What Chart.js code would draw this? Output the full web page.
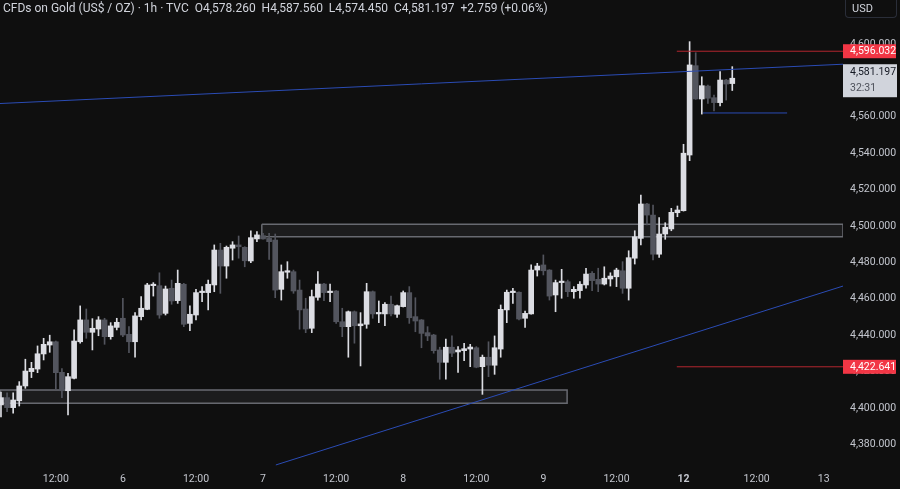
<!DOCTYPE html>
<html>
<head>
<meta charset="utf-8">
<script src="https://cdn.jsdelivr.net/npm/chart.js@4/dist/chart.umd.min.js"></script>
<style>
  html, body { margin: 0; padding: 0; background: #0f0f0f; }
  #wrap { position: relative; width: 900px; height: 489px; }
  #legend { position: absolute; left: 3px; top: 1px; font: 12px "Liberation Sans Narrow", Roboto, sans-serif; color: #d1d4dc; white-space: pre; }
  #usd { position: absolute; left: 845px; top: 0; width: 52px; height: 18px; box-sizing: border-box;
         border: 1px solid #2a2e39; border-top: none; border-radius: 0 0 4px 4px;
         font: 11px Roboto, sans-serif; color: #d1d4dc; line-height: 17px; padding-left: 6px; }
</style>
</head>
<body>
<div id="wrap">
  <canvas id="chart" width="900" height="489"></canvas>
  <div id="legend">CFDs on Gold (US$ / OZ) · 1h · TVC  O4,578.260  H4,587.560  L4,574.450  C4,581.197  +2.759 (+0.06%)</div>
  <div id="usd">USD</div>
</div>
<script>
'use strict'

// ------------- hourly candles ------------- //
var opens = [
  4401.7, 4405.7, 4400.2, 4404.0, 4412.1, 4420.0, 4421.4, 4429.7, 4434.6, 4436.4,
  4419.6, 4409.5, 4416.3, 4436.4, 4448.4, 4441.6, 4443.4, 4448.4, 4439.2, 4444.3,
  4449.3, 4440.5, 4436.4, 4450.2, 4454.2, 4467.2, 4467.2, 4452.0, 4465.8, 4459.0,
  4468.0, 4446.5, 4451.1, 4463.4, 4463.4, 4467.6, 4486.8, 4478.0, 4487.8, 4489.6,
  4488.3, 4480.8, 4492.9, 4494.7, 4493.2, 4492.3, 4465.2, 4474.6, 4474.9, 4464.8,
  4454.4, 4443.8, 4460.8, 4468.1, 4463.4, 4464.3, 4447.4, 4444.7, 4452.9, 4445.2,
  4446.0, 4463.9, 4451.7, 4451.7, 4457.0, 4451.5, 4455.7, 4463.4, 4450.2, 4448.4,
  4441.4, 4440.1, 4431.9, 4425.1, 4433.4, 4430.8, 4431.5, 4432.4, 4433.1, 4422.7,
  4427.9, 4423.5, 4432.4, 4453.9, 4463.4, 4463.6, 4449.3, 4451.7, 4475.8, 4478.6,
  4475.8, 4462.1, 4468.9, 4469.4, 4463.9, 4464.5, 4467.6, 4474.0, 4470.7, 4468.1,
  4470.9, 4472.1, 4475.4, 4465.8, 4482.3, 4493.2, 4512.1, 4506.0, 4484.5, 4495.6,
  4498.4, 4507.3, 4508.4, 4539.0, 4588.1, 4569.8, 4576.9, 4570.5, 4567.8, 4580.2,
  4578.26
];
var highs = [
  4408.8, 4408.3, 4408.4, 4414.5, 4426.8, 4425.1, 4434.1, 4438.3, 4440.0, 4436.8,
  4421.6, 4419.1, 4442.9, 4456.1, 4454.4, 4449.1, 4450.2, 4449.3, 4446.9, 4449.3,
  4460.3, 4444.7, 4452.4, 4461.2, 4468.5, 4468.9, 4474.3, 4467.0, 4470.3, 4475.8,
  4468.5, 4456.1, 4465.2, 4466.7, 4470.3, 4489.6, 4490.5, 4489.0, 4491.4, 4494.5,
  4488.6, 4497.3, 4496.9, 4496.0, 4496.0, 4495.6, 4478.6, 4480.4, 4475.8, 4470.3,
  4460.3, 4464.8, 4474.9, 4468.5, 4468.1, 4464.5, 4454.8, 4453.3, 4453.3, 4452.4,
  4468.5, 4464.3, 4458.8, 4457.9, 4461.5, 4456.6, 4464.3, 4466.7, 4460.6, 4448.6,
  4444.7, 4440.5, 4433.4, 4437.9, 4439.6, 4433.7, 4435.6, 4435.0, 4433.7, 4429.1,
  4436.4, 4439.6, 4456.6, 4464.8, 4465.8, 4463.8, 4453.3, 4478.6, 4479.5, 4484.1,
  4476.0, 4470.3, 4476.2, 4470.3, 4466.7, 4469.4, 4476.8, 4474.9, 4476.8, 4477.6,
  4474.3, 4476.8, 4480.4, 4486.4, 4497.4, 4517.0, 4512.5, 4511.5, 4504.6, 4501.8,
  4509.7, 4511.0, 4544.9, 4601.3, 4595.2, 4582.0, 4577.5, 4572.0, 4584.8, 4580.6,
  4587.56
];
var lows = [
  4395.1, 4398.0, 4397.1, 4401.1, 4410.8, 4416.7, 4419.4, 4426.4, 4430.6, 4410.4,
  4405.7, 4396.2, 4416.0, 4435.6, 4438.3, 4431.9, 4439.7, 4435.0, 4437.8, 4442.9,
  4439.2, 4430.4, 4427.9, 4448.4, 4454.0, 4461.5, 4449.3, 4451.1, 4457.0, 4457.5,
  4444.7, 4442.5, 4448.4, 4458.4, 4453.9, 4463.9, 4463.0, 4471.3, 4481.3, 4482.3,
  4477.6, 4479.8, 4491.4, 4492.7, 4481.7, 4460.6, 4459.3, 4471.3, 4463.0, 4443.3,
  4441.4, 4441.4, 4459.3, 4459.0, 4458.4, 4446.5, 4439.2, 4427.9, 4435.6, 4423.1,
  4443.8, 4449.3, 4446.9, 4445.2, 4450.6, 4449.8, 4455.5, 4446.5, 4441.9, 4433.1,
  4437.0, 4430.1, 4415.8, 4415.8, 4428.2, 4419.6, 4426.0, 4422.7, 4422.1, 4407.5,
  4417.2, 4418.5, 4427.9, 4446.9, 4457.5, 4448.4, 4444.3, 4451.5, 4472.5, 4473.1,
  4459.3, 4452.9, 4460.3, 4461.2, 4460.3, 4460.3, 4465.8, 4464.5, 4463.9, 4467.6,
  4467.0, 4466.7, 4463.0, 4459.3, 4479.1, 4489.6, 4500.6, 4481.3, 4482.8, 4492.7,
  4497.4, 4505.1, 4508.2, 4535.9, 4569.6, 4561.5, 4567.4, 4563.2, 4566.0, 4569.2,
  4574.45
];
var closes = [
  4405.7, 4400.2, 4404.4, 4412.1, 4420.3, 4421.8, 4429.8, 4435.0, 4436.4, 4419.4,
  4409.5, 4417.2, 4436.8, 4448.4, 4441.6, 4443.8, 4448.4, 4439.2, 4445.1, 4447.1,
  4440.1, 4436.4, 4450.6, 4454.8, 4467.6, 4467.6, 4451.1, 4465.4, 4458.8, 4468.5,
  4446.0, 4451.5, 4463.4, 4463.9, 4468.0, 4486.8, 4478.0, 4488.3, 4489.6, 4488.6,
  4480.9, 4493.6, 4495.1, 4492.9, 4491.4, 4464.8, 4474.9, 4474.9, 4464.3, 4453.9,
  4443.4, 4461.2, 4468.1, 4463.4, 4463.9, 4447.4, 4444.7, 4452.9, 4445.2, 4446.2,
  4463.9, 4451.7, 4452.4, 4457.0, 4451.7, 4456.2, 4463.4, 4449.6, 4447.8, 4441.0,
  4439.6, 4431.5, 4425.1, 4433.4, 4430.1, 4431.9, 4432.6, 4433.5, 4422.4, 4427.9,
  4423.5, 4433.1, 4454.2, 4463.6, 4463.9, 4448.9, 4452.0, 4475.8, 4478.0, 4475.4,
  4461.5, 4468.9, 4469.4, 4463.9, 4465.2, 4468.0, 4473.6, 4470.0, 4468.1, 4471.3,
  4472.5, 4475.8, 4465.8, 4482.6, 4494.1, 4512.1, 4506.0, 4484.5, 4495.6, 4499.3,
  4507.5, 4508.8, 4540.0, 4588.5, 4569.8, 4577.1, 4570.2, 4567.8, 4580.2, 4578.0,
  4581.197
];

// time axis (bar index) and price axis
var xTickIdx  = [9, 20, 32, 43, 55, 66, 78, 89, 101, 112, 124, 135];
var xTickText = ['12:00', '6', '12:00', '7', '12:00', '8', '12:00', '9', '12:00', '12', '12:00', '13'];
var yTicks = [4380, 4400, 4420, 4440, 4460, 4480, 4500, 4520, 4540, 4560, 4580, 4600];
var xMin = -0.16;
var xMax = 138.17;
var yMin = 4370.33;
var yMax = 4624.18;

// drawings: trend lines, levels, zones (bar index / price)
var upTrendIdx    = [-0.16, 138.17];
var upTrendPrice  = [4567.3, 4588.9];
var lowTrendIdx   = [45.1, 138.17];
var lowTrendPrice = [4368.7, 4467.0];
var swingLowIdx   = [115.2, 129.0];
var swingLowPrice = 4562.1;
var levelIdx      = [110.9, 138.17];
var levelPrices   = [4596.032, 4422.641];
var zoneIdx       = [[42.8, 138.17], [-0.16, 92.9]];
var zonePrices    = [[4494.1, 4500.9], [4402.6, 4409.9]];

// price tags on the right axis
var tagPrices = [4596.032, 4581.197, 4422.641];
var tagTexts  = [['4,596.032'], ['4,581.197', '32:31'], ['4,422.641']];

var UP = '#dcdde3';
var DOWN = '#53555e';
var BLUE = '#2b4cb5';
var RED = '#b3262f';
var FONT = 'Roboto, sans-serif';
var FSIZE = 10.5;

var myChart;

function fmt(v) {
  var p = v.toFixed(3).split('.');
  return p[0].replace(/\B(?=(\d{3})+(?!\d))/g, ',') + '.' + p[1];
}

function seg(xs, ys) {
  return [{x: xs[0], y: ys[0]}, {x: xs[1], y: ys[1]}];
}

function lineSet(points, color) {
  return {
    type: 'line', data: points, borderColor: color, borderWidth: 1,
    pointRadius: 0, tension: 0, fill: false, order: 0, clip: false
  };
}

function zoneSet(xs, ps) {
  return {
    type: 'line',
    data: [
      {x: xs[0], y: ps[1]}, {x: xs[1], y: ps[1]},
      {x: xs[1], y: ps[0]}, {x: xs[0], y: ps[0]}, {x: xs[0], y: ps[1]}
    ],
    borderColor: 'rgba(125,127,136,0.8)', borderWidth: 1.5,
    backgroundColor: 'rgba(150,150,160,0.10)',
    fill: 'shape', pointRadius: 0, tension: 0, order: 3
  };
}

// ------------- price tags drawn against the y scale ------------- //
var priceTags = {
  id: 'priceTags',
  afterDraw: function(chart) {
    var c = chart.ctx;
    var ys = chart.scales.y;
    var left = chart.chartArea.right;
    c.save();
    c.font = FSIZE + 'px ' + FONT;
    c.textBaseline = 'middle';
    for (var i = 0; i < tagPrices.length; i++) {
      var y = ys.getPixelForValue(tagPrices[i]);
      if (tagTexts[i].length > 1) {
        c.fillStyle = '#d1d4dc';
        c.fillRect(left, y - 14, 54, 33);
        c.fillStyle = '#131722';
        c.fillText(tagTexts[i][0], left + 7, y - 6);
        c.fillStyle = '#4f525c';
        c.fillText(tagTexts[i][1], left + 7, y + 10);
      } else {
        c.fillStyle = '#f23645';
        c.fillRect(left, y - 7, 53, 14);
        c.fillStyle = '#ffffff';
        c.fillText(tagTexts[i][0], left + 7, y + 0.5);
      }
    }
    c.restore();
  }
};

function initChart() {
  var wicks = [], bodies = [], colors = [];
  for (var i = 0; i < opens.length; i++) {
    wicks.push({x: i, y: [lows[i], highs[i]]});
    bodies.push({x: i, y: [opens[i], closes[i]]});
    colors.push(closes[i] >= opens[i] ? UP : DOWN);
  }

  var datasets = [
    { type: 'bar', data: bodies, backgroundColor: colors, barThickness: 5,
      minBarLength: 1.5, grouped: false, order: 1 },
    { type: 'bar', data: wicks, backgroundColor: colors, barThickness: 1,
      grouped: false, order: 2 },
    lineSet(seg(upTrendIdx, upTrendPrice), BLUE),
    lineSet(seg(lowTrendIdx, lowTrendPrice), BLUE),
    lineSet(seg(swingLowIdx, [swingLowPrice, swingLowPrice]), BLUE),
    lineSet(seg(levelIdx, [levelPrices[0], levelPrices[0]]), RED),
    lineSet(seg(levelIdx, [levelPrices[1], levelPrices[1]]), RED),
    zoneSet(zoneIdx[0], zonePrices[0]),
    zoneSet(zoneIdx[1], zonePrices[1])
  ];

  var ctx = document.getElementById('chart').getContext('2d');
  myChart = new Chart(ctx, {
    type: 'bar',
    data: { datasets: datasets },
    options: {
      responsive: false,
      animation: false,
      devicePixelRatio: 1,
      layout: { padding: 0 },
      plugins: { legend: { display: false }, tooltip: { enabled: false } },
      scales: {
        x: {
          type: 'linear', min: xMin, max: xMax, offset: false,
          grid: { display: false, drawTicks: false }, border: { display: false },
          afterBuildTicks: function(s) { s.ticks = xTickIdx.map(function(v) { return {value: v}; }); },
          afterFit: function(s) { s.height = 27; s.paddingLeft = 0; s.paddingRight = 0; },
          ticks: {
            autoSkip: false, maxRotation: 0, padding: 11, color: '#c3c6ce',
            font: function(c) {
              var bold = c.tick && c.tick.value === 112;
              return { family: FONT, size: FSIZE, weight: bold ? 'bold' : 'normal' };
            },
            callback: function(v) { var k = xTickIdx.indexOf(v); return k < 0 ? '' : xTickText[k]; }
          }
        },
        y: {
          position: 'right', min: yMin, max: yMax,
          grid: { display: false, drawTicks: false }, border: { display: false },
          afterBuildTicks: function(s) { s.ticks = yTicks.map(function(v) { return {value: v}; }); },
          afterFit: function(s) { s.width = 57; s.paddingTop = 0; s.paddingBottom = 0; },
          ticks: {
            padding: 7, color: '#c3c6ce', font: { family: FONT, size: FSIZE },
            callback: function(v) { return fmt(v); }
          }
        }
      }
    },
    plugins: [priceTags]
  });
}

initChart();
</script>
</body>
</html>
